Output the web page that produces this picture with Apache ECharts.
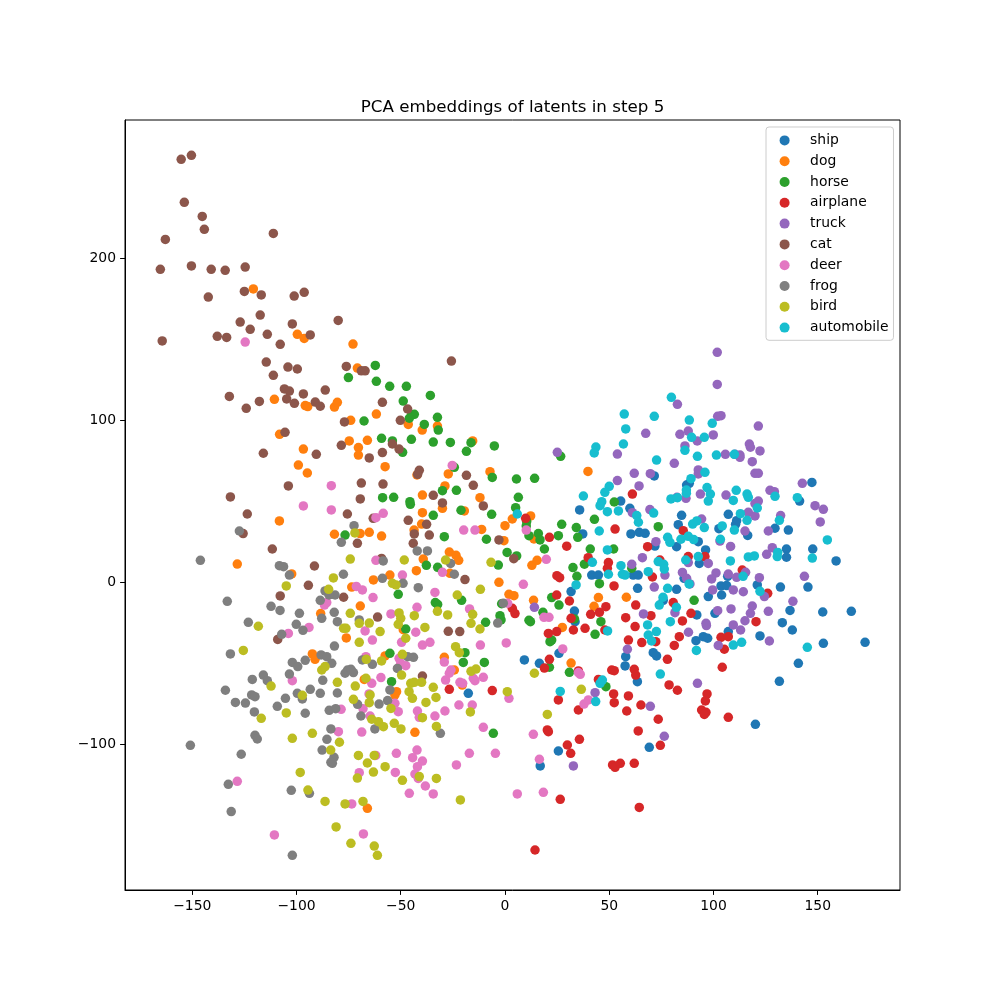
<!DOCTYPE html>
<html>
<head>
<meta charset="utf-8">
<title>PCA embeddings of latents in step 5</title>
<script src="https://cdn.jsdelivr.net/npm/echarts@6/dist/echarts.min.js"></script>
<style>
  html, body { margin: 0; padding: 0; background: #ffffff; }
  #chart { width: 1000px; height: 1000px; }
</style>
</head>
<body>
<div id="chart"></div>
<script>
// class names in legend order, matplotlib tab10 colours
const classNames = ['ship', 'dog', 'horse', 'airplane', 'truck', 'cat', 'deer', 'frog', 'bird', 'automobile'];
const classColors = ['#1f77b4', '#ff7f0e', '#2ca02c', '#d62728', '#9467bd', '#8c564b', '#e377c2', '#7f7f7f', '#bcbd22', '#17becf'];

const xTicks = [-150, -100, -50, 0, 50, 100, 150];
const yTicks = [-100, 0, 100, 200];

// points, [pc1, pc2]
const ship = [
  [35.8,44.5],[55.5,50.0],[59.9,45.5],[37.3,29.7],[60.4,29.7],[64.4,30.7],[41.6,4.3],[44.8,4.3],[61.5,4.3],[63.9,4.3],
  [31.7,-5.9],[63.6,-3.9],[33.3,-17.9],[33.6,-24.5],
  [71.6,65.5],[87.1,59.9],[88.4,60.9],[147.2,61.5],[141.3,50.0],[84.7,41.2],[107.1,41.8],[83.1,35.4],[111.1,37.9],[110.6,35.6],
  [102.6,32.9],[116.4,28.8],[129.5,33.2],[135.9,32.1],[82.3,21.8],[92.7,24.9],[96.2,19.8],[93.2,11.5],[135.0,20.4],[135.0,15.3],
  [147.6,20.4],[158.8,13.0],[106.8,3.5],[103.6,-2.4],[106.3,-2.2],[85.9,2.3],[82.3,-4.5],[121.0,-1.8],[132.1,-3.1],[145.3,-3.1],
  [97.5,-9.0],[103.9,-8.0],[136.7,-17.5],[152.4,-18.5],[166.1,-18.1],[100.7,-19.3],[133.0,-25.1],[137.8,-29.6],[67.2,30.1],[71.9,22.2],
  [75.9,-11.3],[92.0,-20.3],
  [9.3,-48.1],[16.5,-50.2],[-17.6,-68.7],[25.6,-104.3],[16.9,-113.5],[25.9,-44.0],[57.6,-51.8],[57.9,-46.1],[63.5,-61.5],
  [91.6,-36.2],[95.1,-33.7],[97.2,-34.7],[71.1,-43.6],[72.7,-45.6],[122.3,-33.3],[152.7,-37.8],[172.7,-37.2],[140.7,-50.2],
  [131.6,-61.3],[120.1,-87.8],[69.2,-102.0],[107.1,-30.6]
];
const dog = [
  [-120.7,180.9],[-99.6,152.9],[-96.3,150.4],[-72.9,146.9],[-70.8,132.1],
  [-110.6,112.8],[-95.8,108.9],[-94.6,108.3],[-81.8,108.0],[-80.4,110.9],[-74.0,99.8],[-61.7,103.7],[-108.1,91.2],[-96.7,82.1],
  [-74.7,87.1],[-70.3,83.0],[-70.3,78.4],[-66.0,87.5],[-99.1,72.2],[-94.8,67.3],[-57.5,71.2],[-108.2,37.7],[-81.8,29.5],[-69.5,29.9],
  [-65.1,30.7],[-59.2,28.4],[-128.4,11.1],[-102.3,5.0],[-63.1,1.3],[-73.5,-3.1],[-69.4,-14.8],[-88.4,-19.5],
  [-46.4,97.3],[-39.7,93.8],[-32.4,96.3],[-15.5,87.1],[-42.2,66.1],[-27.2,66.7],[-7.2,68.1],[-28.8,59.3],[-39.6,53.7],[-30.0,45.5],
  [-12.0,52.1],[-39.6,42.8],[-19.5,43.9],[-40.0,35.8],[-43.6,32.1],[-11.2,32.5],[0.0,34.8],[3.5,38.9],[12.3,40.8],[-0.5,25.5],
  [13.9,26.6],[-26.7,18.5],[-23.5,16.5],[-22.2,13.4],[-39.2,14.2],[-42.5,7.0],[-26.4,5.4],[12.9,10.3],[15.4,13.4],[-2.9,-0.2],
  [39.8,68.3],[1.9,-7.6],[4.3,-8.4],[13.7,-11.3],[42.7,-15.0],[44.8,-9.6],[58.2,-9.4],[27.5,-28.0],[-55.2,4.3],[-48.8,-29.4],
  [-76.1,-34.5],[-92.4,-44.4],[-91.1,-47.7],[-67.5,-60.1],[-66.0,-139.7],[-57.5,-45.6],
  [-52.0,-67.7],[-52.8,-69.7],[-29.1,-46.5],[-24.3,-54.3],[-20.5,-63.6],[-43.2,-92.8],[31.7,-50.0]
];
const horse = [
  [-62.2,133.7],
  [-75.1,126.2],[-61.7,123.9],[-67.6,99.4],[-59.2,88.7],[-58.7,52.1],[-76.7,29.0],
  [-55.3,120.8],[-47.3,120.8],[-35.8,115.2],[-48.8,111.7],[-44.8,103.1],[-43.5,103.5],[-45.9,101.1],[-32.4,101.7],[-38.7,97.3],[-32.0,93.8],
  [-54.0,87.1],[-49.1,80.1],[-44.9,88.1],[-34.4,86.4],[-26.2,86.2],[-16.3,86.0],[-18.5,80.7],[-5.1,84.0],[-24.3,70.8],[-6.1,64.6],
  [5.5,63.6],[14.2,64.0],[26.7,77.6],[6.4,52.3],[5.1,45.9],[-30.0,56.4],[-23.3,56.6],[-53.4,52.3],[-45.6,49.6],[-45.4,48.0],
  [-21.1,44.3],[-6.4,41.8],[-34.4,41.2],[-29.1,28.0],[-8.9,26.4],[1.0,18.3],[5.6,16.1],[10.4,37.3],[10.2,34.6],[11.5,28.6],
  [16.0,29.9],[16.8,26.0],[18.9,20.4],[25.6,28.6],[27.2,35.6],[34.2,33.6],[34.9,27.6],[42.9,38.7],[40.9,20.4],[32.6,8.9],
  [34.5,3.5],[38.1,11.0],[45.3,-1.0],[52.1,20.4],[52.4,49.4],[-37.7,10.3],[-32.3,9.1],[-51.2,-7.6],[-33.4,-12.7],[-32.3,-13.8],
  [-20.8,-11.3],[-9.3,-24.9],[-2.4,-20.8],[-1.9,-23.4],[-1.6,-13.4],[11.5,-23.6],[12.2,-24.5],[22.4,-9.6],[25.9,-14.2],[18.2,-18.7],
  [46.0,-24.5],[60.8,8.5],[43.2,-32.3],[33.3,-22.8],[-47.6,-29.0],[-3.2,10.5],
  [73.5,34.2],[90.7,-11.3],
  [-55.2,-44.0],[-19.2,-43.6],[-20.0,-49.6],[-9.9,-49.6],[-54.4,-61.5],[-5.6,-93.4],[21.6,-36.8],[22.4,-35.8],[21.3,-52.6],[30.9,-55.7],
  [48.4,-64.6]
];
const airplane = [
  [9.9,39.3],[21.3,27.6],[29.6,22.1],[52.8,32.7],[61.1,54.3],[39.9,15.0],[49.6,12.0],[49.1,8.5],[24.9,3.9],[26.2,2.7],
  [52.3,-2.4],[24.8,-8.0],[30.9,-11.7],[3.5,-16.2],[4.8,-19.5],[31.7,-22.4],[32.8,-29.6],[41.1,-19.9],[45.3,-18.7],[48.4,-15.2],
  [62.7,-14.2],[57.9,-22.0],[38.4,-28.6],[20.8,-31.7],[24.8,-30.6],[47.9,-29.6],[62.4,-27.5],
  [85.5,31.7],[68.4,21.8],[87.9,15.7],[95.9,15.7],[74.3,13.6],[70.7,3.1],[113.8,7.4],[126.0,-7.0],[80.7,-12.7],[70.0,-20.8],
  [89.2,-19.3],[85.1,-24.0],[120.4,-24.5],
  [-26.7,-66.2],[-6.1,-67.0],[21.3,-47.7],[18.9,-53.1],[35.2,-54.9],[25.6,-72.8],[35.2,-79.0],[20.3,-91.3],[20.8,-92.4],[35.7,-97.1],
  [29.9,-100.6],[31.5,-105.7],[26.5,-134.1],[14.4,-165.4],[51.2,-54.3],[52.4,-54.7],[52.1,-69.1],[52.4,-74.5],[59.2,-70.3],[58.4,-79.6],
  [62.0,-53.9],[62.7,-57.4],[65.2,-75.9],[63.9,-91.9],[51.6,-112.9],[52.8,-114.4],[55.3,-111.9],[62.0,-111.9],[64.4,-139.1],[59.2,-35.8],
  [65.6,-37.4],[44.8,-60.1],
  [81.2,-39.1],[83.6,-33.7],[72.3,-36.8],[77.9,-47.7],[103.6,-34.1],[107.1,-33.7],[105.2,-41.5],[104.2,-52.6],[78.7,-63.5],[82.7,-66.8],
  [96.9,-69.1],[96.1,-73.4],[94.3,-79.0],[96.4,-80.4],[95.6,-81.7],[107.1,-83.5],[73.5,-84.7],[74.5,-100.8]
];
const truck = [
  [101.8,141.8],
  [25.1,80.1],[53.9,79.0],[62.0,67.1],[53.9,62.6],[64.3,59.3],[61.1,42.8],[65.9,15.0],[60.8,10.9],[14.1,-15.6],[66.4,-19.7],[67.5,91.8],
  [101.8,122.0],[82.7,109.7],[83.9,91.2],[87.9,93.2],[92.2,87.1],[99.9,90.8],[102.0,102.3],[103.6,102.7],[121.5,96.3],[86.3,84.0],
  [105.7,78.8],[110.3,78.8],[112.7,78.4],[112.7,77.0],[117.2,85.2],[117.7,83.2],[122.3,80.9],[118.6,74.3],[81.2,73.3],[92.7,69.2],
  [92.7,66.7],[119.9,67.1],[121.5,67.1],[69.7,66.9],[142.6,60.9],[127.1,56.6],[129.2,55.8],[93.7,54.3],[106.0,53.7],[82.5,52.3],
  [86.8,51.7],[121.5,50.0],[119.9,48.4],[148.7,47.1],[152.7,44.9],[69.5,44.7],[116.7,43.0],[119.9,40.8],[132.2,41.0],[151.2,37.1],
  [94.3,38.9],[115.1,31.5],[126.3,31.5],[72.4,24.9],[103.1,25.3],[108.2,22.0],[128.2,21.2],[125.5,17.1],[87.9,12.0],[97.5,11.5],
  [76.7,4.3],[85.1,5.9],[87.1,2.3],[101.2,5.6],[99.1,1.9],[107.1,4.9],[111.1,2.9],[115.4,6.0],[122.0,2.7],[143.6,3.5],
  [71.6,-3.1],[88.7,-1.2],[99.6,-4.9],[109.5,-4.9],[114.3,-6.0],[124.4,-9.0],[138.1,-11.9],[118.6,-14.8],[117.7,-19.3],[126.3,-18.1],
  [108.4,-16.6],[102.0,-17.7],[115.1,-23.9],[109.5,-26.5],[96.4,-25.5],[96.6,-26.9],[81.5,-18.9],[88.0,-31.0],[113.0,-29.6],
  [32.8,-113.5],[43.2,-68.3],[58.7,-41.5],
  [102.3,-39.1],[126.8,-36.4],[92.3,-62.5],[69.7,-76.7],[76.4,-95.2]
];
const cat = [
  [-155.3,260.9],[-150.4,263.4],[-153.8,234.4],[-145.2,225.7],[-144.2,217.7],[-162.9,211.5],[-111.1,215.2],[-165.3,193.0],[-150.4,195.1],[-140.9,193.0],
  [-134.2,192.4],[-124.6,194.4],[-125.0,179.4],[-116.9,177.2],[-101.1,176.5],[-96.3,178.8],[-142.3,175.9],[-117.4,164.8],[-127.0,160.5],[-122.2,156.0],
  [-102.0,159.3],[-80.0,161.5],[-114.0,152.9],[-138.0,151.7],[-133.5,151.0],[-93.4,152.5],[-107.8,146.7],[-164.4,148.8],[-114.5,135.8],[-111.1,127.6],
  [-104.1,132.7],[-99.6,131.5],[-76.1,133.1],[-68.9,130.4],[-67.1,130.4],
  [-25.7,136.4],
  [-132.2,114.6],[-124.1,107.2],[-117.8,111.5],[-105.8,119.2],[-103.4,117.9],[-104.7,113.0],[-101.0,110.3],[-96.7,116.1],[-91.0,111.1],[-88.6,108.5],
  [-86.2,118.5],[-105.5,92.4],[-115.9,79.5],[-90.5,78.8],[-78.5,84.4],[-77.0,98.8],[-65.1,76.6],[-58.8,79.9],[-58.8,110.9],[-68.9,61.1],
  [-69.4,51.3],[-58.5,60.5],[-103.9,59.3],[-131.7,52.5],[-123.6,42.0],[-125.6,29.9],[-75.6,42.0],[-63.2,39.3],[-70.8,23.9],[-111.6,20.4],
  [-91.4,9.9],[-94.3,-2.0],[-107.8,-8.6],[-77.4,-9.4],[-59.2,14.6],[-61.1,-21.6],
  [-46.7,106.8],[-50.2,99.8],[-54.0,85.2],[-50.8,82.1],[-41.1,69.0],[-41.9,66.5],[-18.5,65.9],[-15.2,59.7],[-34.4,53.5],[-30.0,48.8],
  [-10.4,47.0],[-46.4,38.1],[-37.6,35.6],[-43.5,29.7],[-44.0,23.9],[-36.3,29.0],[-2.9,26.0],[4.2,14.4],[-19.2,1.5],[-27.2,-30.4],
  [-21.7,-30.6],[-109.0,-35.4],[-39.6,-58.0]
];
const deer = [
  [-124.6,148.1],
  [-83.3,59.5],[-96.7,47.0],[-83.3,44.5],[-61.9,39.7],[-58.4,42.4],[-61.9,13.4],[-71.3,-2.7],[-68.4,-4.9],[-63.3,-9.6],[-85.5,-12.7],
  [-86.6,-14.2],[-94.0,-28.0],[-103.9,-31.7],[-67.1,-30.2],
  [-25.3,72.0],[-19.8,32.1],[-14.4,32.1],[10.2,32.1],[19.8,14.0],[-30.0,6.0],[-49.2,4.3],[8.8,-1.4],[-33.6,-6.4],[-42.2,-15.6],
  [-17.0,-16.6],[-54.7,-19.7],[18.7,-21.8],[21.1,-21.8],[1.3,-13.1],[-42.8,-31.0],
  [-63.6,-35.8],[-102.0,-60.9],[-66.7,-46.1],[-63.9,-62.5],[-59.5,-59.0],[-65.2,-69.1],[-68.1,-78.2],[-64.7,-82.7],[-78.6,-78.6],[-79.9,-92.4],
  [-68.7,-92.6],[-62.0,-107.0],[-69.9,-117.7],[-128.4,-123.0],[-73.5,-137.0],[-110.6,-156.1],[-67.9,-155.5],
  [-49.6,-37.2],[-39.6,-38.9],[-36.0,-37.2],[-11.8,-38.9],[0.6,-37.6],[-29.1,-49.4],[-50.8,-47.1],[-50.0,-50.2],[-47.6,-51.6],[-25.9,-54.3],
  [-26.7,-56.3],[-28.5,-60.5],[-21.6,-61.9],[-20.3,-62.5],[-15.2,-59.4],[-14.4,-60.9],[-10.4,-58.8],[1.9,-71.8],[-22.1,-75.9],[-15.7,-75.9],
  [-28.8,-79.6],[-42.0,-79.6],[-41.1,-83.5],[-33.6,-82.7],[-51.2,-80.0],[-52.8,-74.9],[-10.4,-89.7],[13.6,-94.0],[-52.1,-105.7],[-42.2,-103.7],
  [-44.3,-108.4],[-39.6,-110.5],[-42.0,-114.0],[-43.2,-118.5],[-41.6,-121.2],[-38.2,-125.9],[-52.6,-117.5],[-45.9,-130.4],[-34.4,-130.8],[-23.3,-112.9],
  [-17.1,-105.7],[-4.6,-105.7],[5.9,-130.8],[18.4,-129.8],[16.5,-109.4],[27.7,-41.3],[36.1,-57.0],[35.2,-55.9],[37.9,-75.3],[40.0,-72.8]
];
const frog = [
  [-146.1,13.4],[-127.4,31.5],[-72.4,34.8],[-78.5,24.5],[-108.2,10.1],[-106.2,9.5],[-103.4,4.3],[-77.5,4.8],[-58.8,2.3],[-58.4,13.0],
  [-133.2,-11.9],[-112.2,-15.0],[-107.9,-17.5],[-98.6,-19.3],[-88.6,-11.3],[-86.3,-5.5],[-81.5,-8.0],[-84.4,-8.0],[-81.9,-18.7],[-87.9,-22.4],
  [-80.4,-24.5],[-69.9,-23.4],[-123.1,-24.9],[-100.1,-26.1],[-96.9,-29.8],[-107.1,-32.3],
  [-42.1,19.2],[-37.2,19.2],[-26.1,11.5],[-24.3,4.8],[-41.6,-3.5],[-48.9,-0.8],[-0.8,-13.1],[-3.5,-25.3],
  [-131.7,-44.4],[-81.8,-39.5],[-88.2,-45.0],[-85.5,-46.1],[-83.1,-50.2],[-102.0,-49.6],[-99.4,-52.2],[-95.8,-48.3],[-115.9,-57.4],[-114.0,-60.9],
  [-121.2,-60.1],[-134.1,-66.8],[-103.4,-56.8],[-87.4,-60.7],[-93.4,-66.2],[-88.6,-68.7],[-99.6,-68.7],[-97.2,-72.2],[-105.3,-71.8],[-121.5,-69.7],
  [-119.9,-70.8],[-129.3,-74.3],[-124.5,-74.7],[-109.2,-76.7],[-120.2,-80.2],[-95.8,-81.0],[-80.4,-68.5],[-84.3,-79.2],[-81.2,-78.2],[-75.5,-54.3],
  [-72.7,-55.9],[-76.7,-56.3],[-73.9,-53.9],[-63.6,-50.8],[-68.4,-48.1],[-70.7,-75.5],[-69.1,-82.7],[-60.4,-75.3],[-62.4,-90.7],[-83.5,-90.7],
  [-85.4,-97.1],[-119.9,-94.6],[-118.8,-96.9],[-150.9,-100.8],[-126.5,-106.3],[-87.7,-103.7],[-82.0,-108.2],[-83.5,-111.3],[-82.8,-111.9],[-132.7,-124.9],
  [-102.5,-128.6],[-93.8,-130.4],[-131.3,-141.7],[-102.0,-168.7],
  [-43.9,-46.5],[-46.7,-46.1],[-51.6,-53.3],[-55.2,-66.6],[-56.3,-73.2],[-31.0,-93.4]
];
const bird = [
  [-72.0,30.3],[-74.2,14.2],[-82.3,2.5],[-104.9,-2.4],[-84.6,-4.5],[-74.2,-19.3],[-69.9,-25.5],[-65.1,-25.3],[-77.4,-28.6],[-76.3,-28.6],
  [-118.3,-27.3],[-59.9,-30.6],
  [-48.3,13.6],[-54.0,-0.8],[-52.3,-1.8],[-28.5,13.6],[-6.7,12.2],[-11.8,-4.5],[-22.9,-8.0],[-32.4,-18.1],[-27.5,-20.3],[-43.5,-20.8],
  [-50.8,-19.1],[-50.0,-22.4],[-51.2,-26.1],[-38.4,-28.0],[-15.5,-19.9],[-16.3,-25.5],[-12.0,-29.0],
  [-125.5,-42.2],[-112.2,-64.2],[-116.9,-84.1],[-104.9,-80.8],[-97.2,-69.9],[-102.0,-96.5],[-92.4,-93.4],[-87.9,-54.3],[-86.3,-52.2],[-80.4,-61.9],
  [-69.9,-37.2],[-66.5,-47.7],[-59.2,-48.7],[-71.8,-64.2],[-66.7,-59.4],[-72.7,-72.4],[-64.7,-69.7],[-65.1,-74.5],[-63.9,-84.7],[-60.7,-86.2],
  [-58.3,-89.3],[-79.4,-98.9],[-83.6,-103.7],[-70.3,-107.0],[-62.7,-107.0],[-66.0,-111.7],[-57.5,-114.0],[-63.1,-117.3],[-70.8,-121.0],[-98.2,-117.5],
  [-94.5,-128.4],[-86.3,-135.4],[-76.7,-137.0],[-68.1,-135.4],[-81.0,-151.2],[-73.9,-161.3],[-62.7,-163.0],[-61.2,-168.7],
  [-47.6,-34.7],[-49.2,-44.6],[-49.6,-57.4],[-23.7,-39.9],[-21.9,-43.6],[-16.3,-55.1],[-13.9,-53.7],[-45.2,-62.5],[-43.5,-61.9],[-40.0,-61.9],
  [-46.0,-67.7],[-44.4,-71.8],[-34.4,-65.0],[-33.1,-71.2],[-37.9,-74.3],[-54.7,-78.0],[-39.6,-83.7],[-16.6,-80.2],[-53.1,-87.2],[-49.9,-90.7],
  [-32.9,-89.1],[1.1,-67.7],[14.1,-56.3],[20.3,-81.7],[36.6,-66.2],[-49.2,-122.4],[-41.1,-120.1],[-32.9,-121.2],[-21.4,-134.5]
];
const automobile = [
  [57.2,103.7],[57.9,94.5],[56.8,85.2],[43.6,83.3],[42.8,79.7],[50.0,59.1],[47.9,55.4],[37.6,53.1],[46.4,49.6],[45.6,47.1],
  [49.1,43.4],[54.4,43.9],[63.2,41.0],[64.0,36.9],[5.9,42.0],[45.2,31.5],[49.1,19.8],[41.9,12.2],[55.6,10.1],[49.6,4.8],
  [56.3,4.8],[57.6,4.3],[34.1,-1.8],[49.2,-30.2],
  [79.8,114.0],[71.6,102.3],[88.4,100.0],[99.4,98.0],[89.5,89.3],[95.6,89.3],[86.3,81.3],[92.3,77.6],[101.4,78.4],[110.0,78.8],
  [72.7,75.3],[95.9,67.7],[89.2,63.8],[96.9,58.3],[98.5,54.3],[97.5,50.0],[87.0,54.8],[87.0,56.8],[79.6,51.3],[82.7,52.1],
  [109.5,50.4],[110.9,56.6],[116.1,54.3],[116.7,52.3],[129.5,52.9],[140.2,52.1],[121.0,45.7],[71.3,42.6],[112.9,42.2],[116.1,38.1],
  [131.6,38.1],[92.0,37.7],[90.0,35.8],[95.6,33.6],[104.2,34.6],[110.0,32.1],[78.0,27.6],[79.1,24.5],[84.4,26.4],[87.9,28.2],
  [90.5,26.2],[103.3,26.4],[92.7,15.7],[86.7,13.6],[108.1,13.0],[116.7,15.5],[119.6,16.1],[130.8,18.3],[130.6,15.7],[147.4,14.8],
  [154.6,26.0],[73.5,12.6],[76.1,10.9],[68.7,6.4],[76.4,8.0],[88.3,-1.2],[114.2,3.5],[78.0,-3.9],[122.3,-5.7],[75.8,-9.4],
  [74.0,-14.2],[82.2,-15.6],[79.3,-24.5],[68.4,-26.5],[72.6,-30.6],
  [26.5,-67.5],[43.5,-73.8],[45.6,-62.5],[46.7,-60.5],
  [91.8,-42.2],[109.5,-38.9],[113.5,-37.2],[145.0,-40.3],[74.5,-56.8],[68.7,-32.7],[70.3,-36.4]
];

const classPoints = [ship, dog, horse, airplane, truck, cat, deer, frog, bird, automobile];

const FONT = 'DejaVu Sans';
const minus = v => String(v).replace('-', '\u2212');

const chart = echarts.init(document.getElementById('chart'), null, { renderer: 'canvas' });

const series = classNames.map((name, i) => ({
  name: name,
  type: 'scatter',
  data: classPoints[i],
  symbol: 'circle',
  symbolSize: 9.5,
  itemStyle: { color: classColors[i], opacity: 1, borderWidth: 0 },
  emphasis: { disabled: true },
  animation: false
}));

const option = {
  backgroundColor: '#ffffff',
  animation: false,
  title: {
    text: 'PCA embeddings of latents in step 5',
    left: 512.5,
    top: 99,
    textAlign: 'center',
    padding: 0,
    textStyle: { fontFamily: FONT, fontSize: 16.7, fontWeight: 'normal', color: '#000' }
  },
  legend: {
    orient: 'vertical',
    left: 766,
    top: 127,
    padding: [6.4, 5, 5.7, 13.6],
    itemWidth: 25,
    itemHeight: 10,
    itemGap: 6.8,
    icon: 'circle',
    backgroundColor: 'rgba(255,255,255,0.8)',
    borderColor: '#cccccc',
    borderWidth: 1,
    borderRadius: 3,
    data: classNames,
    formatter: name => '{t|' + name + '}',
    textStyle: {
      fontFamily: FONT, fontSize: 13.9, color: '#000', lineHeight: 14,
      rich: { t: { fontFamily: FONT, fontSize: 13.9, color: '#000', lineHeight: 14, padding: [0, 0, 0, 8] } }
    }
  },
  grid: {
    left: 125, right: 100, top: 120, bottom: 110,
    show: true, borderColor: '#000', borderWidth: 1, backgroundColor: 'transparent'
  },
  xAxis: {
    type: 'value',
    min: -182.25,
    max: 189.45,
    axisLine: { show: true, onZero: false, lineStyle: { color: '#000', width: 1 } },
    axisTick: { show: true, length: 4.9, lineStyle: { color: '#000', width: 1 }, customValues: xTicks },
    axisLabel: { fontFamily: FONT, fontSize: 13.9, color: '#000', margin: 9.5, customValues: xTicks, formatter: minus },
    splitLine: { show: false }
  },
  yAxis: {
    type: 'value',
    min: -190.1,
    max: 285.2,
    axisLine: { show: true, onZero: false, lineStyle: { color: '#000', width: 1 } },
    axisTick: { show: true, length: 4.9, lineStyle: { color: '#000', width: 1 }, customValues: yTicks },
    axisLabel: { fontFamily: FONT, fontSize: 13.9, color: '#000', margin: 9, customValues: yTicks, formatter: minus },
    splitLine: { show: false }
  },
  series: series
};

chart.setOption(option);
</script>
</body>
</html>
